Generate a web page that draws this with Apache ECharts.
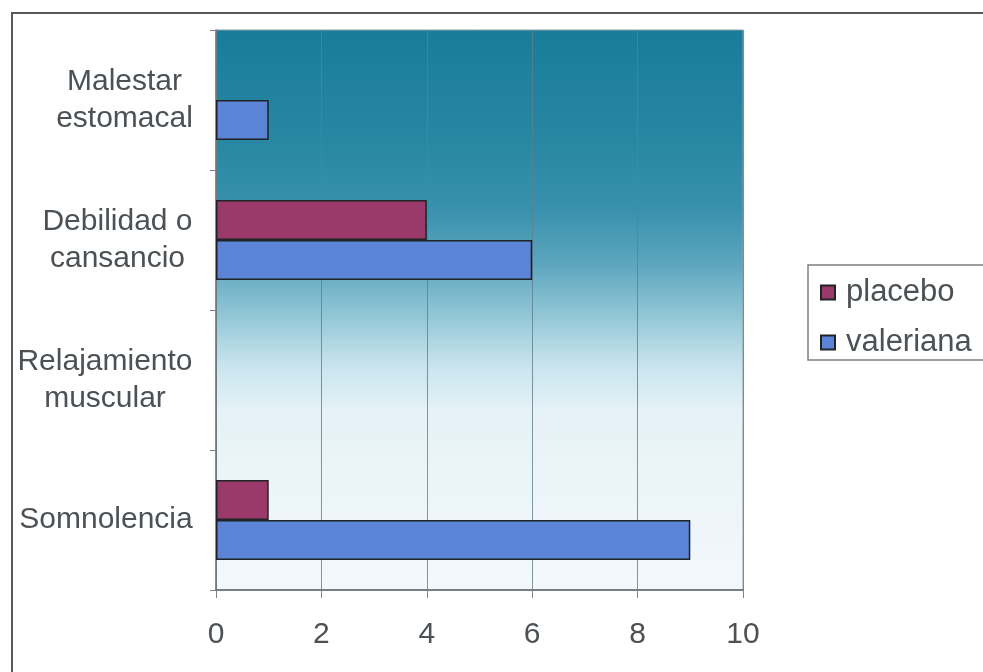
<!DOCTYPE html>
<html>
<head>
<meta charset="utf-8">
<script src="https://cdn.jsdelivr.net/npm/echarts@6/dist/echarts.min.js"></script>
<style>
  html, body { margin: 0; padding: 0; background: #ffffff; }
  #chart { width: 983px; height: 672px; }
</style>
</head>
<body>
<div id="chart"></div>
<script>
// Symptoms, listed bottom to top along the category axis
const categories = ['Somnolencia', 'Relajamiento\nmuscular', 'Debilidad o\ncansancio', 'Malestar\nestomacal'];
const placebo = [1, 0, 4, 0];
const valeriana = [9, 0, 6, 1];
const xTicks = [0, 2, 4, 6, 8, 10];

const FONT = '"Liberation Sans", Arial, sans-serif';
const FONT_SIZE = 30;
const TEXT_COLOR = '#4b5154';

// Each multi-line category label is a block as wide as its longest line,
// with its lines centred inside that block.
const ctx = document.createElement('canvas').getContext('2d');
ctx.font = FONT_SIZE + 'px ' + FONT;
const rich = {};
categories.forEach((c, i) => {
  const w = Math.max(...c.split('\n').map(s => ctx.measureText(s).width));
  rich['c' + i] = { width: Math.ceil(w), align: 'center', fontSize: FONT_SIZE, fontFamily: FONT, color: TEXT_COLOR, lineHeight: 37 };
});

// Zero values are drawn without an outline so no sliver shows on the axis
const toBarData = values => values.map(v => v === 0 ? { value: v, itemStyle: { borderWidth: 0 } } : v);

const chart = echarts.init(document.getElementById('chart'), null, { renderer: 'canvas' });

chart.setOption({
  animation: false,
  backgroundColor: '#ffffff',
  textStyle: { fontFamily: FONT },
  graphic: [{
    type: 'rect',
    silent: true,
    z: -1,
    shape: { x: 12, y: 13, width: 1100, height: 800 },
    style: { fill: 'none', stroke: '#555a5e', lineWidth: 2 }
  }],
  legend: {
    data: ['placebo', 'valeriana'],
    orient: 'vertical',
    left: 808,
    top: 265,
    padding: [12, 60, 2, 12],
    itemGap: 19,
    itemWidth: 14,
    itemHeight: 14,
    icon: 'rect',
    borderColor: '#7d7f80',
    borderWidth: 1.5,
    textStyle: { fontSize: 31, color: TEXT_COLOR, fontFamily: FONT, padding: [0, 0, 0, 6] }
  },
  grid: {
    left: 216,
    right: 240,
    top: 30,
    bottom: 82,
    show: true,
    borderColor: '#8f9ea6',
    borderWidth: 1,
    backgroundColor: new echarts.graphic.LinearGradient(0, 0, 0, 1, [
      { offset: 0.00, color: '#187d9a' },
      { offset: 0.20, color: '#2887a3' },
      { offset: 0.32, color: '#3891ad' },
      { offset: 0.42, color: '#5ea6bf' },
      { offset: 0.52, color: '#98cad9' },
      { offset: 0.60, color: '#c9e4ee' },
      { offset: 0.68, color: '#e6f2f7' },
      { offset: 1.00, color: '#f3f8fc' }
    ])
  },
  xAxis: {
    type: 'value',
    min: xTicks[0],
    max: xTicks[xTicks.length - 1],
    interval: xTicks[1] - xTicks[0],
    axisLine: { show: true, lineStyle: { color: '#5d6569', width: 1.5 } },
    axisTick: { show: true, length: 8, lineStyle: { color: '#7a8387' } },
    splitLine: { show: true, lineStyle: { color: '#5f7f8a', width: 1, opacity: 0.8 } },
    axisLabel: { fontSize: FONT_SIZE, color: TEXT_COLOR, margin: 30, fontFamily: FONT }
  },
  yAxis: {
    type: 'category',
    data: categories,
    axisLine: { show: true, lineStyle: { color: '#6d767a', width: 1.5 } },
    axisTick: { show: true, length: 6, lineStyle: { color: '#7a8387' } },
    axisLabel: {
      margin: 23,
      align: 'right',
      formatter: (value, index) => value.split('\n').map(s => '{c' + index + '|' + s + '}').join('\n'),
      rich: rich
    }
  },
  series: [
    {
      name: 'placebo',
      type: 'bar',
      data: toBarData(placebo),
      barWidth: 40,
      barGap: '0%',
      itemStyle: { color: '#9a3a6b', borderColor: '#1e2326', borderWidth: 1.5 }
    },
    {
      name: 'valeriana',
      type: 'bar',
      data: toBarData(valeriana),
      barWidth: 40,
      barGap: '0%',
      itemStyle: { color: '#5b84d6', borderColor: '#1e2326', borderWidth: 1.5 }
    }
  ]
});
</script>
</body>
</html>
